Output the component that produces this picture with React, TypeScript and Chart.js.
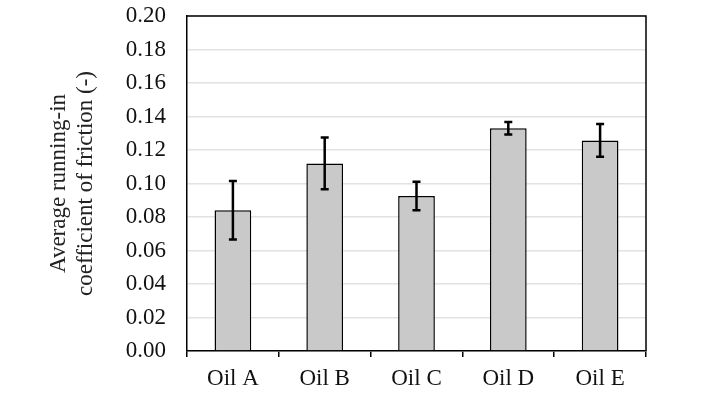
import React, { useEffect, useRef } from "react";
import { Chart, registerables } from "chart.js";

Chart.register(...registerables);

const categories = ["Oil A", "Oil B", "Oil C", "Oil D", "Oil E"];
const meanValues = [0.084, 0.112, 0.0925, 0.133, 0.1257];
const errorValues = [0.0175, 0.0155, 0.0085, 0.0037, 0.0098];
const yTitle = ["Average running-in", "coefficient of friction (-)"];

const FONT = "'Liberation Serif', 'Times New Roman', serif";

const errorBarPlugin = {
  id: "errorBars",
  afterDatasetsDraw(chart: any) {
    const ctx = chart.ctx;
    const meta = chart.getDatasetMeta(0);
    const y = chart.scales.y;
    ctx.save();
    ctx.strokeStyle = "#000";
    ctx.lineWidth = 2.5;
    ctx.lineCap = "butt";
    meta.data.forEach((bar: any, i: number) => {
      const x = bar.x;
      const top = y.getPixelForValue(meanValues[i] + errorValues[i]);
      const bot = y.getPixelForValue(meanValues[i] - errorValues[i]);
      const cap = 4;
      ctx.beginPath();
      ctx.moveTo(x, top);
      ctx.lineTo(x, bot);
      ctx.moveTo(x - cap, top);
      ctx.lineTo(x + cap, top);
      ctx.moveTo(x - cap, bot);
      ctx.lineTo(x + cap, bot);
      ctx.stroke();
    });
    ctx.restore();
  },
};

const framePlugin = {
  id: "frame",
  afterDraw(chart: any) {
    const { ctx, chartArea } = chart;
    ctx.save();
    ctx.strokeStyle = "#000";
    ctx.lineWidth = 1.5;
    ctx.beginPath();
    ctx.moveTo(chartArea.left, chartArea.top);
    ctx.lineTo(chartArea.right, chartArea.top);
    ctx.lineTo(chartArea.right, chartArea.bottom);
    ctx.stroke();
    ctx.restore();
  },
};

export default function App() {
  const ref = useRef<HTMLCanvasElement>(null);
  useEffect(() => {
    if (!ref.current) return;
    const chart = new Chart(ref.current, {
      type: "bar",
      data: {
        labels: categories,
        datasets: [
          {
            data: meanValues,
            backgroundColor: "#c9c9c9",
            borderColor: "#000",
            borderWidth: 1.5,
            categoryPercentage: 1,
            barPercentage: 0.4,
          },
        ],
      },
      options: {
        responsive: false,
        animation: false,
        layout: { padding: { top: 16, right: 55, left: 0, bottom: 0 } },
        plugins: { legend: { display: false }, tooltip: { enabled: false } },
        scales: {
          x: {
            afterFit: (s: any) => {
              s.height = 44;
            },
            grid: {
              drawOnChartArea: false,
              drawTicks: true,
              tickLength: 6,
              color: "#000",
              lineWidth: 1.5,
              offset: true,
            },
            border: { display: true, color: "#000", width: 1.5 },
            ticks: {
              color: "#111",
              padding: 8,
              font: { family: FONT, size: 23 },
              maxRotation: 0,
            },
          },
          y: {
            min: 0,
            max: 0.2,
            afterFit: (s: any) => {
              s.width = 187;
            },
            grid: {
              color: "#e2e2e2",
              lineWidth: 1.5,
              drawTicks: true,
              tickLength: 20,
              tickColor: "rgba(0,0,0,0)",
            },
            border: { display: true, color: "#000", width: 1.5 },
            ticks: {
              stepSize: 0.02,
              padding: 1,
              color: "#111",
              font: { family: FONT, size: 23 },
              callback: (v: any) => Number(v).toFixed(2),
            },
            title: {
              display: true,
              text: yTitle,
              color: "#222",
              font: { family: FONT, size: 23 },
              padding: { top: 45, bottom: 0 },
            },
          },
        },
      },
      plugins: [errorBarPlugin, framePlugin],
    });
    return () => chart.destroy();
  }, []);
  return (
    <div style={{ position: "fixed", left: 0, top: 0, width: 701, height: 395, background: "#fff" }}>
      <canvas ref={ref} width={701} height={395} />
    </div>
  );
}
